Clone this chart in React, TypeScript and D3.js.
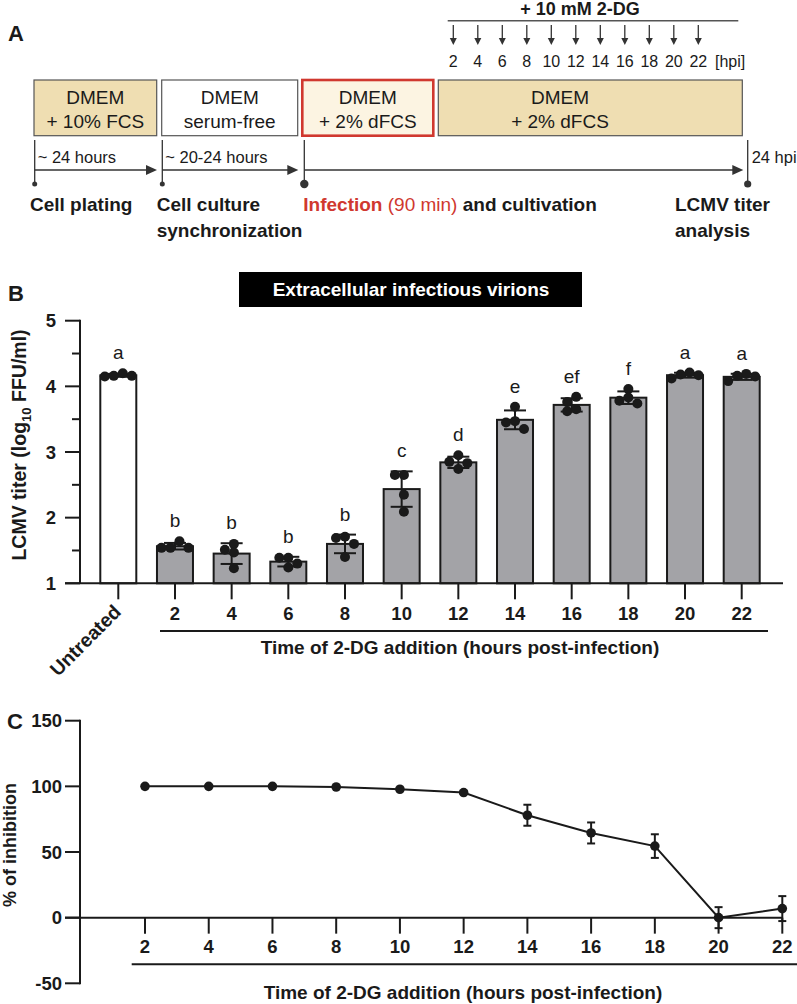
import React from "react";
import * as d3 from "d3";

const FONT = "'Liberation Sans', Arial, Helvetica, sans-serif";

// ---------- Panel A data ----------
const boxLines: string[][] = [
  ["DMEM", "+ 10% FCS"],
  ["DMEM", "serum-free"],
  ["DMEM", "+ 2% dFCS"],
  ["DMEM", "+ 2% dFCS"],
];
const durationLabels = ["~ 24 hours", "~ 20-24 hours", ""];
const hpiTimes = [2, 4, 6, 8, 10, 12, 14, 16, 18, 20, 22];

// ---------- Panel B data ----------
const barCategories = ["Untreated", "2", "4", "6", "8", "10", "12", "14", "16", "18", "20", "22"];
const barLetters = ["a", "b", "b", "b", "b", "c", "d", "e", "ef", "f", "a", "a"];
const rep1 = [4.2, 1.64, 1.6, 1.39, 1.71, 2.65, 2.95, 3.69, 3.84, 3.96, 4.21, 4.19];
const rep2 = [4.16, 1.54, 1.51, 1.39, 1.69, 2.65, 2.85, 3.47, 3.76, 3.83, 4.18, 4.16];
const rep3 = [4.16, 1.54, 1.47, 1.3, 1.6, 2.35, 2.83, 3.45, 3.65, 3.78, 4.17, 4.15];
const rep4 = [4.15, 1.54, 1.23, 1.24, 1.4, 2.09, 2.74, 3.35, 3.62, 3.74, 4.12, 4.08];
const yTicksB = [1, 2, 3, 4, 5];
const yMinorB = [1.5, 2.5, 3.5, 4.5];

// ---------- Panel C data ----------
const inhibHours = [2, 4, 6, 8, 10, 12, 14, 16, 18, 20, 22];
const inhibMean = [100, 100, 100, 99.5, 97.8, 95.3, 78, 64.5, 54.5, 0, 6.9];
const inhibSD = [0, 0, 0, 0.5, 1, 1, 8, 8, 9, 8, 9.5];
const yTicksC = [-50, 0, 50, 100, 150];

const INK = "#1a1a1a";
const TAN = "#efdeb2";
const CREAM = "#fcf4e2";
const RED = "#d0382f";
const BAR_GRAY = "#a3a3a7";

function swarm(vals: number[], y: (v: number) => number, step: number, minD: number) {
  const idx = vals.map((v, i) => i).sort((a, b) => vals[b] - vals[a]);
  const placed: { i: number; x: number; y: number }[] = [];
  const cands = [0, -step, step, -2 * step, 2 * step];
  for (const i of idx) {
    const py = y(vals[i]);
    let chosen = 0;
    for (const c of cands) {
      if (placed.every((p) => Math.hypot(p.x - c, p.y - py) >= minD)) {
        chosen = c;
        break;
      }
    }
    placed.push({ i, x: chosen, y: py });
  }
  const m = d3.mean(placed, (p) => p.x) || 0;
  const out = new Array(vals.length).fill(0);
  placed.forEach((p) => (out[p.i] = p.x - m));
  return out;
}

export default function App() {
  const W = 797;
  const H = 1004;

  // ---- Panel A geometry ----
  const boxX = [34, 161.7, 302.3, 438.3];
  const boxR = [156.7, 297.7, 433.3, 742.3];
  const boxTextX = [95.3, 229.7, 367.8, 560];
  const boxTop = 80;
  const boxBot = 135.7;
  const tlX = [34.7, 162.3, 304.3, 747.7];
  const tlArrowEnd = [157, 298.3, 743.3];
  const dotR = [2.5, 2.5, 4.2, 3.6];
  const hpiX = d3.scaleLinear().domain([2, 22]).range([453.3, 698.3]);

  // ---- Panel B scales ----
  const xB = d3.scalePoint<string>().domain(barCategories).range([118.3, 741.7]);
  const yB = d3.scaleLinear().domain([1, 5]).range([583.3, 320.7]);
  const barW = 36;
  const reps = barCategories.map((_, i) => [rep1[i], rep2[i], rep3[i], rep4[i]]);

  // ---- Panel C scales ----
  const xC = d3.scaleLinear().domain([2, 22]).range([145, 782.3]);
  const yC = d3.scaleLinear().domain([-50, 150]).range([983.3, 720.7]);
  const lineC = d3
    .line<number>()
    .x((d, i) => xC(inhibHours[i]))
    .y((d) => yC(d));

  const arrowHead = (x: number, y: number) => `M${x},${y} L${x - 11},${y - 5} L${x - 11},${y + 5} Z`;

  return (
    <svg
      width={W}
      height={H}
      style={{ position: "absolute", left: 0, top: 0, background: "#fff" }}
      fontFamily={FONT}
    >
      <rect x={0} y={0} width={W} height={H} fill="#fff" />

      {/* ================= Panel A ================= */}
      <text x={8} y={41} fontSize={22} fontWeight="bold" fill={INK}>A</text>

      <text x={580} y={15} fontSize={18} fontWeight="bold" textAnchor="middle" fill={INK}>+ 10 mM 2-DG</text>
      <line x1={447.7} x2={738.3} y1={20.7} y2={20.7} stroke="#555" strokeWidth={1.5} />
      {hpiTimes.map((h) => (
        <g key={"hpi" + h}>
          <line x1={hpiX(h)} x2={hpiX(h)} y1={25} y2={40} stroke="#333" strokeWidth={1.3} />
          <path d={`M${hpiX(h) - 3.5},${38} L${hpiX(h) + 3.5},${38} L${hpiX(h)},${45} Z`} fill="#333" />
          <text x={hpiX(h)} y={67} fontSize={16} textAnchor="middle" fill={INK}>{h}</text>
        </g>
      ))}
      <text x={715} y={67} fontSize={16} fill={INK}>[hpi]</text>

      {boxLines.map((lines, i) => (
        <g key={"box" + i}>
          <rect
            x={boxX[i]}
            y={boxTop}
            width={boxR[i] - boxX[i]}
            height={boxBot - boxTop}
            fill={i === 1 ? "#fff" : i === 2 ? CREAM : TAN}
            stroke={i === 2 ? RED : "#555"}
            strokeWidth={i === 2 ? 2.6 : 1.2}
          />
          <text x={boxTextX[i]} y={103.5} fontSize={19} textAnchor="middle" fill={INK}>{lines[0]}</text>
          <text x={boxTextX[i]} y={127.5} fontSize={19} textAnchor="middle" fill={INK}>{lines[1]}</text>
        </g>
      ))}

      {tlX.map((x, i) => (
        <g key={"tl" + i}>
          <line x1={x} x2={x} y1={140} y2={184} stroke="#333" strokeWidth={1.3} />
          <circle cx={x} cy={184} r={dotR[i]} fill="#333" />
        </g>
      ))}
      {tlArrowEnd.map((xe, i) => (
        <g key={"arr" + i}>
          <line x1={tlX[i]} x2={xe - 8} y1={170} y2={170} stroke="#333" strokeWidth={1.3} />
          <path d={arrowHead(xe, 170)} fill="#333" />
          {durationLabels[i] && (
            <text x={tlX[i] + 3} y={162.5} fontSize={16.5} fill={INK}>{durationLabels[i]}</text>
          )}
        </g>
      ))}
      <text x={751.7} y={162.5} fontSize={16.5} fill={INK}>24 hpi</text>

      <text x={30} y={210.5} fontSize={19} fontWeight="bold" fill={INK}>Cell plating</text>
      <text x={156.7} y={210.5} fontSize={19} fontWeight="bold" fill={INK}>Cell culture</text>
      <text x={156.7} y={236.5} fontSize={19} fontWeight="bold" fill={INK}>synchronization</text>
      <text x={303.3} y={210.5} fontSize={19} fill={INK}>
        <tspan fontWeight="bold" fill={RED}>Infection</tspan>
        <tspan fill={RED}> (90 min)</tspan>
        <tspan fontWeight="bold"> and cultivation</tspan>
      </text>
      <text x={675} y={210.5} fontSize={19} fontWeight="bold" fill={INK}>LCMV titer</text>
      <text x={675} y={236.5} fontSize={19} fontWeight="bold" fill={INK}>analysis</text>

      {/* ================= Panel B ================= */}
      <text x={8} y={301} fontSize={22} fontWeight="bold" fill={INK}>B</text>
      <rect x={239} y={272} width={343} height={35} fill="#000" />
      <text x={411} y={296} fontSize={19} fontWeight="bold" fill="#fff" textAnchor="middle">
        Extracellular infectious virions
      </text>

      {/* y axis */}
      <line x1={80} x2={80} y1={yB(5) - 1} y2={yB(1)} stroke={INK} strokeWidth={2} />
      {yTicksB.map((t) => (
        <g key={"yb" + t}>
          <line x1={65} x2={80} y1={yB(t)} y2={yB(t)} stroke={INK} strokeWidth={2} />
          <text x={56} y={yB(t) + 6.5} fontSize={18.5} fontWeight="bold" textAnchor="end" fill={INK}>{t}</text>
        </g>
      ))}
      {yMinorB.map((t) => (
        <line key={"ybm" + t} x1={72} x2={80} y1={yB(t)} y2={yB(t)} stroke={INK} strokeWidth={2} />
      ))}
      <text
        transform={`translate(26,${445}) rotate(-90)`}
        fontSize={19.5}
        fontWeight="bold"
        textAnchor="middle"
        fill={INK}
      >
        LCMV titer (log
        <tspan fontSize={13} dy={5}>10</tspan>
        <tspan dy={-5}> FFU/ml)</tspan>
      </text>

      {/* bars */}
      {barCategories.map((c, i) => {
        const vals = reps[i];
        const m = d3.mean(vals) as number;
        const sd = d3.deviation(vals) as number;
        const cx = xB(c) as number;
        const offs = swarm(vals, yB, 9, 8.5);
        const top = Math.max(m + sd, d3.max(vals) as number);
        return (
          <g key={"bar" + c}>
            <rect
              x={cx - barW / 2}
              y={yB(m)}
              width={barW}
              height={yB(1) - yB(m)}
              fill={i === 0 ? "#fff" : BAR_GRAY}
              stroke={INK}
              strokeWidth={2}
            />
            <line x1={cx} x2={cx} y1={yB(m + sd)} y2={yB(m - sd)} stroke={INK} strokeWidth={2} />
            <line x1={cx - 11} x2={cx + 11} y1={yB(m + sd)} y2={yB(m + sd)} stroke={INK} strokeWidth={2} />
            <line x1={cx - 11} x2={cx + 11} y1={yB(m - sd)} y2={yB(m - sd)} stroke={INK} strokeWidth={2} />
            {vals.map((v, k) => (
              <circle key={k} cx={cx + offs[k]} cy={yB(v)} r={5} fill={INK} />
            ))}
            <text x={cx} y={yB(top) - 14} fontSize={19} textAnchor="middle" fill={INK}>{barLetters[i]}</text>
          </g>
        );
      })}

      {/* x axis */}
      <line x1={65} x2={783} y1={yB(1)} y2={yB(1)} stroke={INK} strokeWidth={2} />
      {barCategories.map((c) => (
        <line key={"xt" + c} x1={xB(c)} x2={xB(c)} y1={yB(1)} y2={yB(1) + 16} stroke={INK} strokeWidth={2} />
      ))}
      {barCategories.slice(1).map((c) => (
        <text key={"xl" + c} x={xB(c)} y={619.5} fontSize={18.5} fontWeight="bold" textAnchor="middle" fill={INK}>{c}</text>
      ))}
      <text
        transform={`translate(${(xB("Untreated") as number) + 4},${613}) rotate(-45)`}
        fontSize={19.5}
        fontWeight="bold"
        textAnchor="end"
        fill={INK}
      >
        Untreated
      </text>
      <line x1={160} x2={768} y1={631} y2={631} stroke={INK} strokeWidth={2} />
      <text x={460} y={653.5} fontSize={19} fontWeight="bold" textAnchor="middle" fill={INK}>
        Time of 2-DG addition (hours post-infection)
      </text>

      {/* ================= Panel C ================= */}
      <text x={7} y={729} fontSize={22} fontWeight="bold" fill={INK}>C</text>
      <line x1={80} x2={80} y1={yC(150) - 1} y2={yC(-50) + 1} stroke={INK} strokeWidth={2} />
      {yTicksC.map((t) => (
        <g key={"yc" + t}>
          <line x1={65} x2={80} y1={yC(t)} y2={yC(t)} stroke={INK} strokeWidth={2} />
          <text x={62} y={yC(t) + 6.5} fontSize={18.5} fontWeight="bold" textAnchor="end" fill={INK}>{t}</text>
        </g>
      ))}
      <text
        transform={`translate(16,845) rotate(-90)`}
        fontSize={18}
        fontWeight="bold"
        textAnchor="middle"
        fill={INK}
      >
        % of inhibition
      </text>
      <line x1={65} x2={783} y1={yC(0)} y2={yC(0)} stroke={INK} strokeWidth={2} />
      {inhibHours.map((h) => (
        <g key={"xc" + h}>
          <line x1={xC(h)} x2={xC(h)} y1={yC(0)} y2={yC(0) + 16} stroke={INK} strokeWidth={2} />
          <text x={xC(h)} y={953} fontSize={18.5} fontWeight="bold" textAnchor="middle" fill={INK}>{h}</text>
        </g>
      ))}
      <line x1={131.7} x2={797} y1={964.3} y2={964.3} stroke={INK} strokeWidth={2} />
      <text x={463} y={999} fontSize={19} fontWeight="bold" textAnchor="middle" fill={INK}>
        Time of 2-DG addition (hours post-infection)
      </text>

      <path d={lineC(inhibMean) || ""} fill="none" stroke={INK} strokeWidth={2} />
      {inhibMean.map((m, i) => {
        const x = xC(inhibHours[i]);
        const sd = inhibSD[i];
        return (
          <g key={"pc" + i}>
            {sd > 0 && (
              <g stroke={INK} strokeWidth={2}>
                <line x1={x} x2={x} y1={yC(m + sd)} y2={yC(m - sd)} />
                <line x1={x - 4} x2={x + 4} y1={yC(m + sd)} y2={yC(m + sd)} />
                <line x1={x - 4} x2={x + 4} y1={yC(m - sd)} y2={yC(m - sd)} />
              </g>
            )}
            <circle cx={x} cy={yC(m)} r={4.8} fill={INK} />
          </g>
        );
      })}
    </svg>
  );
}
